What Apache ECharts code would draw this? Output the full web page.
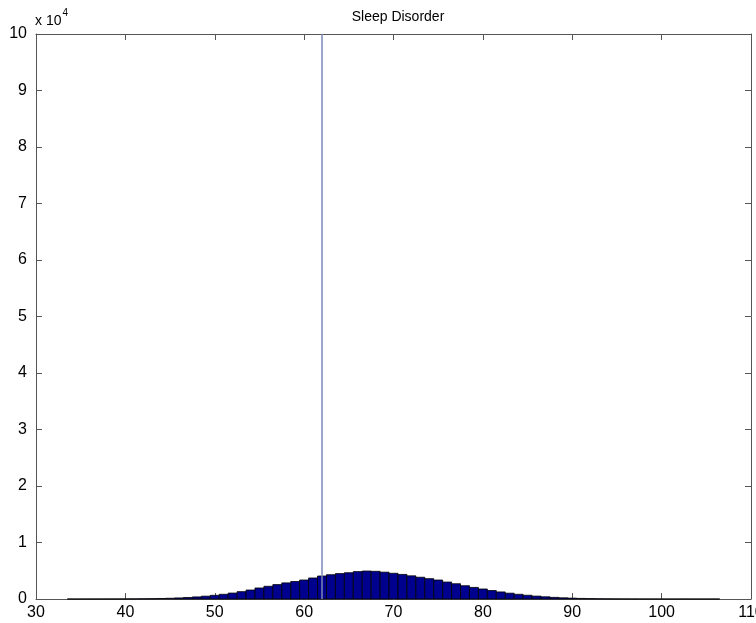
<!DOCTYPE html>
<html>
<head>
<meta charset="utf-8">
<script src="https://cdn.jsdelivr.net/npm/echarts@6/dist/echarts.min.js"></script>
<style>
html,body{margin:0;padding:0;background:#fff;}
#chart{width:756px;height:623px;}
</style>
</head>
<body>
<div id="chart"></div>
<script>
// Histogram bin centres (integer values)
var binCenters = [34,35,36,37,38,39,40,41,42,43,44,45,46,47,48,49,50,51,52,53,54,55,56,57,58,59,60,61,62,63,64,65,66,67,68,69,70,71,72,73,74,75,76,77,78,79,80,81,82,83,84,85,86,87,88,89,90,91,92,93,94,95,96,97,98,99,100,101,102,103,104,105,106];
// Counts per bin
var binCounts = [1,2,3,4,7,11,17,26,40,60,90,130,190,270,370,500,650,830,1050,1300,1590,1950,2250,2550,2850,3100,3360,3720,4070,4300,4500,4650,4850,4950,4900,4750,4550,4350,4100,3850,3600,3360,3000,2700,2350,2050,1770,1500,1250,1030,830,660,510,390,290,210,150,100,70,45,30,20,13,8,5,3,2,2,1,1,0,0,1];
var binWidth = 1;
// Vertical reference line
var markerX = [62];
var xTicks = [30,40,50,60,70,80,90,100,110];
var yTicks = [0,1,2,3,4,5,6,7,8,9,10];
var yScale = 10000;
var titleText = 'Sleep Disorder';

var histData = binCenters.map(function(c,i){return [c, binCounts[i]];});
var markerData = [[markerX[0], 0], [markerX[0], yTicks[yTicks.length-1]*yScale]];

var font = '"Liberation Sans", Arial, sans-serif';
var axisCol = '#555555';
var chart = echarts.init(document.getElementById('chart'), null, {renderer:'canvas'});
var xMin = xTicks[0], xMax = xTicks[xTicks.length-1];
var yMax = yTicks[yTicks.length-1]*yScale;

function xAxisCfg(pos, showLabel){
  return {
    type:'value', position:pos, min:xMin, max:xMax, interval:10,
    axisLine:{show:true, onZero:false, lineStyle:{color:axisCol, width:1}},
    axisTick:{show:true, inside:true, length:6, lineStyle:{color:axisCol}},
    axisLabel:{show:showLabel, color:'#000', fontFamily:font, fontSize:16, margin:6,
      showMinLabel:true, showMaxLabel:true, hideOverlap:false},
    splitLine:{show:false}
  };
}
function yAxisCfg(pos, showLabel){
  return {
    type:'value', position:pos, min:0, max:yMax, interval:yScale,
    axisLine:{show:true, onZero:false, lineStyle:{color:axisCol, width:1}},
    axisTick:{show:true, inside:true, length:6, lineStyle:{color:axisCol}},
    axisLabel:{show:showLabel, color:'#000', fontFamily:font, fontSize:16, margin:9,
      showMinLabel:true, showMaxLabel:true, hideOverlap:false,
      formatter:function(v){return String(Math.round(v/yScale));}},
    splitLine:{show:false}
  };
}

chart.setOption({
  animation:false,
  backgroundColor:'#ffffff',
  title:{text:titleText, left:393, textAlign:'center', top:5,
    textStyle:{fontFamily:font, fontSize:14, fontWeight:'normal', color:'#000'}},
  graphic:[{
    type:'text', left:35, top:8,
    style:{
      text:'{a|x 10}{b|4}',
      rich:{
        a:{fontFamily:font, fontSize:14, fill:'#000', padding:[6,0,0,0]},
        b:{fontFamily:font, fontSize:10, fill:'#000', verticalAlign:'top', padding:[0,0,0,1]}
      }
    }
  }],
  grid:{left:36, right:5, top:34, bottom:24, containLabel:false, outerBoundsMode:'none'},
  xAxis:[xAxisCfg('bottom', true), xAxisCfg('top', false)],
  yAxis:[yAxisCfg('left', true), yAxisCfg('right', false)],
  series:[
    {
      type:'custom',
      xAxisIndex:0, yAxisIndex:0,
      data:histData,
      renderItem:function(params, api){
        var c = api.value(0), v = api.value(1);
        var p1 = api.coord([c - binWidth/2, v]);
        var p2 = api.coord([c + binWidth/2, 0]);
        return {
          type:'rect',
          shape:{x:p1[0], y:p1[1], width:p2[0]-p1[0], height:p2[1]-p1[1]},
          style:{fill:'#00008f', stroke:'#000000', lineWidth:0.8}
        };
      },
      encode:{x:0, y:1},
      z:2
    },
    {
      type:'line',
      xAxisIndex:0, yAxisIndex:0,
      data:markerData,
      symbol:'none',
      lineStyle:{color:'#7b87b8', width:1.5},
      z:3
    }
  ]
});
</script>
</body>
</html>
